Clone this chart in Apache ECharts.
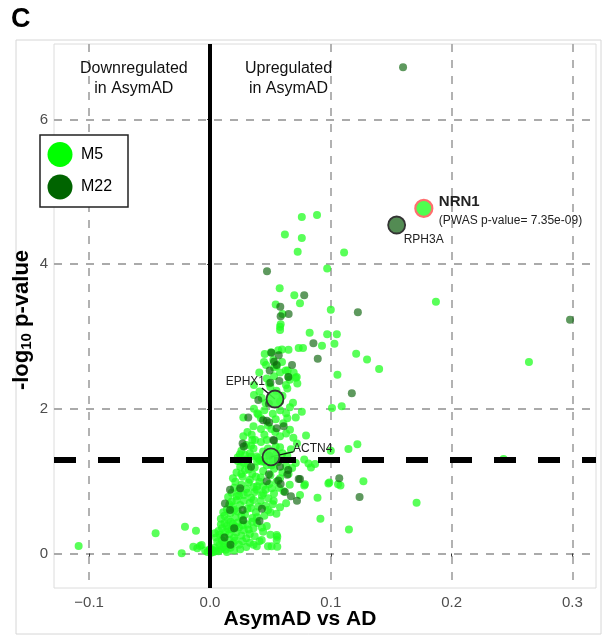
<!DOCTYPE html>
<html><head><meta charset="utf-8">
<script src="https://cdn.jsdelivr.net/npm/echarts@6/dist/echarts.min.js"></script>
<style>html,body{margin:0;padding:0;background:#fff}#c{width:607px;height:636px}</style>
</head><body><div id="c"></div>
<script>
const xRange = [-0.1291, 0.3195];
const yRange = [-0.477, 7.042];
const threshold = 1.301;
const xAxisTitle = 'AsymAD vs AD';
const panelLetter = 'C';
const regionLabels = ['Downregulated\nin AsymAD', 'Upregulated\nin AsymAD'];
const regionLabelX = [-0.063, 0.065];
const regionLabelY = 6.57;
const legendItems = ['M5', 'M22'];
const moduleColors = { M5: '#00ff00', M22: '#006400' };

const hlNames = ['NRN1', 'RPH3A', 'EPHX1', 'ACTN4'];
const hlX = [0.177, 0.1545, 0.0538, 0.0505];
const hlY = [4.77, 4.54, 2.135, 1.334];
const hlModule = ['M5', 'M22', 'M5', 'M5'];
const pwasText = '(PWAS p-value= 7.35e-09)';

const m5 = [
[0.111,4.16],[0.097,3.94],[0.0745,3.46],[0.187,3.48],[0.100,3.37],[0.0825,3.05],[0.097,3.03],[0.105,3.03],[0.0927,2.87],[0.103,2.90],[0.077,2.84],[0.121,2.76],[0.130,2.68],[0.140,2.55],[0.264,2.645],[0.1055,2.47],[0.101,2.01],[0.109,2.035],[0.076,1.96],[0.0795,1.63],[0.100,1.42],[0.1146,1.445],[0.122,1.51],[0.078,1.30],[0.0815,1.245],[0.0836,1.19],[0.087,1.237],[0.243,1.306],[0.098,0.967],[0.108,0.94],[0.127,1.0],[0.078,0.94],[0.0745,0.81],[0.089,0.77],[0.171,0.70],[0.0914,0.48],[0.115,0.33],
[0.076,4.65],[0.0886,4.68],[0.062,4.41],[0.076,4.36],[0.0726,4.17],[0.0577,3.665],[0.0698,3.57],[0.0544,3.44],[0.060,3.31],[0.0585,3.17],[0.058,3.135],[0.058,3.09],
[0.0453,2.757],[0.0596,2.82],[0.065,2.815],[0.0734,2.84],[0.0447,2.647],[0.0596,2.647],[0.0408,2.50],[0.058,2.50],[0.0643,2.53],[0.0693,2.50],[0.071,2.43],[0.0723,2.35],[0.049,2.35],[0.0364,2.33],[0.0629,2.33],[0.0364,2.19],[0.0428,2.15],[0.0687,2.085],[0.0662,2.02],[0.0364,2.00],[0.0392,1.94],[0.058,1.98],[0.063,1.94],[0.0276,1.88],[0.0422,1.87],[0.0544,1.855],[0.064,1.87],[0.0607,1.80],[0.0662,1.71],[0.063,1.66],[0.0508,1.72],[0.0422,1.72],[0.0345,1.64],[0.0276,1.62],[0.0373,1.57],[0.0544,1.48],
[0.0505,2.78],[0.0565,2.81],[0.0464,2.605],[0.0524,2.675],[0.053,2.57],[0.0552,2.59],[0.0627,2.53],[0.0718,2.44],[0.0651,2.44],
[0.034,1.49],[0.0422,1.54],[0.047,1.57],[0.048,1.45],[0.0248,1.37],[0.029,1.36],[0.033,1.385],[0.0387,1.34],[0.0428,1.27],[0.060,1.385],[0.0786,0.956],[0.0988,0.98],[0.106,0.956],[0.063,0.694],[0.0527,0.73],[0.0483,0.763],[0.0441,0.83],[0.0387,0.88],[0.0557,0.23],[0.0552,0.187],[0.051,0.10],[0.0557,0.094],[0.0387,0.10],[0.048,0.10],[0.0428,0.187],[0.0552,0.256],[-0.0116,0.315],[-0.0083,0.104],[-0.0105,0.072],[-0.045,0.28],[-0.0207,0.37],[-0.0138,0.094],[-0.0069,0.117],[-0.0234,0.003],[-0.1087,0.104],
[0.001,0.01],[0.003,0.02],[0.005,0.04],[0.002,0.05],[0.007,0.03],[0.009,0.06],[0.004,0.08],[0.011,0.09],[0.008,0.12],[0.013,0.05],[0.015,0.11],[0.012,0.15],[0.017,0.08],[0.019,0.14],[0.006,0.16],[0.021,0.18],[0.016,0.19],[0.024,0.12],[0.027,0.17],[0.010,0.18],[0.030,0.09],[0.033,0.15],[-0.002,0.02],[-0.004,0.04],[0.014,0.02],[0.020,0.04],[0.025,0.06],[0.036,0.12],[0.041,0.17],[0.000,0.06],
[0.005,0.22],[0.008,0.26],[0.011,0.24],[0.013,0.30],[0.016,0.27],[0.018,0.33],[0.010,0.35],[0.014,0.38],[0.020,0.22],[0.022,0.29],[0.024,0.36],[0.019,0.41],[0.026,0.25],[0.028,0.32],[0.031,0.40],[0.017,0.44],[0.023,0.43],[0.033,0.27],[0.036,0.35],[0.039,0.42],[0.030,0.21],[0.044,0.30],[0.047,0.38],[0.012,0.42],[0.007,0.31],[0.035,0.44],[0.050,0.26],
[0.009,0.48],[0.012,0.52],[0.015,0.47],[0.017,0.56],[0.014,0.61],[0.019,0.65],[0.021,0.50],[0.023,0.58],[0.025,0.67],[0.018,0.72],[0.027,0.46],[0.029,0.54],[0.031,0.62],[0.033,0.70],[0.022,0.74],[0.035,0.49],[0.038,0.57],[0.040,0.65],[0.042,0.73],[0.045,0.52],[0.048,0.60],[0.052,0.68],[0.055,0.55],[0.028,0.73],[0.036,0.74],[0.016,0.68],[0.058,0.64],
[0.015,0.78],[0.018,0.84],[0.020,0.91],[0.022,0.79],[0.024,0.87],[0.026,0.95],[0.028,0.81],[0.030,0.89],[0.032,0.98],[0.034,0.77],[0.037,0.85],[0.039,0.93],[0.043,0.80],[0.046,0.88],[0.049,0.96],[0.053,0.83],[0.057,0.91],[0.061,0.86],[0.021,0.99],[0.041,0.99],[0.066,0.95],
[0.019,1.04],[0.022,1.12],[0.025,1.20],[0.023,1.28],[0.027,1.06],[0.029,1.15],[0.031,1.24],[0.033,1.02],[0.035,1.10],[0.037,1.19],[0.039,1.27],[0.042,1.05],[0.044,1.14],[0.047,1.22],[0.050,1.08],[0.053,1.17],[0.056,1.26],[0.060,1.12],[0.063,1.21],[0.068,1.18],[0.071,1.25],[0.041,1.29],[0.030,1.30],
[0.023,1.33],[0.026,1.42],[0.030,1.50],[0.036,1.45],[0.040,1.32],[0.044,1.41],[0.052,1.30],[0.055,1.38],[0.058,1.47],[0.064,1.35],[0.067,1.44],[0.072,1.52],[0.035,1.57],
[0.031,1.68],[0.036,1.76],[0.045,1.64],[0.048,1.77],[0.054,1.68],[0.058,1.62],[0.069,1.60],[0.040,1.92],[0.045,1.98],[0.052,1.93],[0.071,1.88],
[0.041,2.24],[0.046,2.08],[0.050,2.30],[0.055,2.25],[0.060,2.18],[0.064,2.28],[0.058,2.10],[0.047,2.42],[0.066,2.40],[0.053,2.45],
[0.004,0.28],[0.009,0.40],[0.015,0.34],[0.021,0.37],[0.027,0.39],[0.032,0.33],[0.037,0.24],[0.043,0.36],[0.011,0.57],[0.020,0.60],[0.026,0.52],[0.034,0.63],[0.039,0.50],[0.046,0.66],[0.050,0.57],[0.024,0.80],[0.031,0.84],[0.036,0.92],[0.044,0.93],[0.051,0.90],[0.055,0.99],[0.026,1.10],[0.032,1.16],[0.038,1.06],[0.045,1.27],[0.051,1.22],[0.058,1.04],[0.065,1.10],[0.028,1.25],[0.034,1.34]
];

const m22 = [
[0.1598,6.72],[0.078,3.57],[0.1224,3.335],[0.298,3.23],[0.0856,2.905],[0.0892,2.69],[0.1174,2.215],[0.0745,1.03],[0.107,1.04],[0.1238,0.78],[0.0472,3.90],[0.0582,3.41],[0.0585,3.28],[0.0651,3.31],[0.0508,2.775],[0.0569,2.74],[0.053,2.65],[0.0679,2.605],[0.0494,2.53],[0.0574,2.385],[0.0648,2.44],[0.0488,2.07],[0.0317,1.88],[0.047,1.835],[0.049,1.81],[0.0552,1.73],[0.027,1.52],[0.0524,1.57],[0.0648,1.155],[0.064,1.09],[0.0488,1.095],[0.0565,1.01],[0.0585,0.96],[0.0734,1.03],[0.067,0.79],[0.072,0.73],[0.0166,0.88],[0.0124,0.69],[0.0166,0.60],[0.0276,0.46],[0.0552,2.605],
[0.012,0.22],[0.020,0.35],[0.027,0.60],[0.041,0.45],[0.025,0.90],[0.047,1.00],[0.034,1.20],[0.049,1.35],[0.058,1.20],[0.043,0.62],[0.017,0.12],[0.028,1.48],[0.053,1.56],[0.061,1.76],[0.040,2.12],[0.050,2.36],[0.044,1.84],[0.062,0.85]
];

const FONT = '"Liberation Sans", Arial, Helvetica, sans-serif';
const chart = echarts.init(document.getElementById('c'), null, { renderer: 'canvas' });

const gridLine = { show: true, showMinLine: false, showMaxLine: false, lineStyle: { color: '#aaaaaa', width: 1.8, type: [8, 8] } };

const hlData = hlNames.map((n, i) => {
  const isM5 = hlModule[i] === 'M5';
  return {
    name: n, value: [hlX[i], hlY[i]],
    itemStyle: {
      color: isM5 ? 'rgba(60,255,60,0.9)' : 'rgba(40,110,40,0.8)',
      borderColor: n === 'NRN1' ? '#ff6f6f' : '#333333',
      borderWidth: n === 'NRN1' ? 2.2 : 1.8,
      opacity: 1
    }
  };
});

const option = {
  animation: false,
  backgroundColor: '#ffffff',
  grid: { left: 54, right: 11, top: 44, bottom: 48, show: true, borderColor: '#dcdcdc', borderWidth: 1, backgroundColor: 'transparent' },
  xAxis: {
    type: 'value', min: xRange[0], max: xRange[1], splitNumber: 4,
    axisLine: { show: false },
    axisTick: { show: true, length: 3, lineStyle: { color: '#333' } },
    axisLabel: { color: '#4d4d4d', fontSize: 15, fontFamily: FONT, margin: 7, showMinLabel: false, showMaxLabel: false,
      formatter: v => v.toFixed(1).replace('-', '\u2212') },
    splitLine: gridLine
  },
  yAxis: {
    type: 'value', min: yRange[0], max: yRange[1], splitNumber: 4,
    axisLine: { show: false },
    axisTick: { show: true, length: 3, lineStyle: { color: '#333' } },
    axisLabel: { color: '#4d4d4d', fontSize: 15, fontFamily: FONT, margin: 6, showMinLabel: false, showMaxLabel: false,
      formatter: v => String(Math.round(v)) },
    splitLine: gridLine
  },
  series: [
    { type: 'scatter', name: 'M5', data: m5, symbolSize: 8, z: 2,
      itemStyle: { color: '#22ff22', opacity: 0.75 } },
    { type: 'scatter', name: 'M22', data: m22, symbolSize: 8, z: 2,
      itemStyle: { color: '#0a640a', opacity: 0.66 } },
    { type: 'line', name: 'refLines', data: [], z: 3, silent: true,
      markLine: { silent: true, symbol: 'none', label: { show: false }, animation: false,
        data: [
          { xAxis: 0, lineStyle: { color: '#000', width: 4, type: 'solid' } },
          { yAxis: threshold, lineStyle: { color: '#000', width: 6, type: [22, 22] } }
        ] } },
    { type: 'scatter', name: 'highlight', data: hlData, symbolSize: 17, z: 5 }
  ]
};
chart.setOption(option);

const P = (x, y) => chart.convertToPixel({ gridIndex: 0 }, [x, y]);
const g = [];
g.push({ type: 'rect', shape: { x: 16, y: 40, width: 585, height: 594 }, style: { fill: 'none', stroke: '#d6d6d6', lineWidth: 1 }, z: 1, silent: true });
g.push({ type: 'text', x: 11, y: 20, style: { text: panelLetter, font: 'bold 27px ' + FONT, fill: '#000', textVerticalAlign: 'middle' }, z: 10 });
regionLabels.forEach((t, i) => {
  const p = P(regionLabelX[i], regionLabelY);
  g.push({ type: 'text', x: p[0], y: p[1], style: { text: t, font: '16px ' + FONT, fill: '#111', textAlign: 'center', textVerticalAlign: 'middle', lineHeight: 20 }, z: 10 });
});
g.push({ type: 'text', x: 300, y: 619, style: { text: xAxisTitle, font: 'bold 21px ' + FONT, fill: '#000', textAlign: 'center', textVerticalAlign: 'middle' }, z: 10 });
g.push({ type: 'text', x: 22, y: 320, rotation: Math.PI / 2,
  style: { text: '{a|-log}{b|10}{a| p-value}', textAlign: 'center', textVerticalAlign: 'middle',
    rich: { a: { font: 'bold 22px ' + FONT, fill: '#000', lineHeight: 27 }, b: { font: 'bold 15px ' + FONT, fill: '#000', lineHeight: 27, padding: [10, 0, 0, 0] } } }, z: 10 });
g.push({ type: 'rect', shape: { x: 40, y: 135, width: 88, height: 72 }, style: { fill: '#fff', stroke: '#222', lineWidth: 1.5 }, z: 20 });
legendItems.forEach((n, i) => {
  const cy = 154.5 + i * 32.5;
  g.push({ type: 'circle', shape: { cx: 60, cy: cy, r: 12.5 }, style: { fill: moduleColors[n] }, z: 21 });
  g.push({ type: 'text', x: 81, y: cy, style: { text: n, font: '16px ' + FONT, fill: '#000', textVerticalAlign: 'middle' }, z: 21 });
});
const lbl = (x, y, t, align, size, bold) => ({ type: 'text', x, y, style: { text: t, font: (bold ? 'bold ' : '') + size + 'px ' + FONT, fill: '#222', textAlign: align, textVerticalAlign: 'middle' }, z: 30 });
const seg = (a, b) => ({ type: 'line', shape: { x1: a[0], y1: a[1], x2: b[0], y2: b[1] }, style: { stroke: '#111', lineWidth: 1.3 }, z: 4 });
let p = P(hlX[0], hlY[0]);
g.push(lbl(p[0] + 15, p[1] - 7, hlNames[0], 'left', 15, true));
g.push(lbl(p[0] + 15, p[1] + 12, pwasText, 'left', 12, false));
p = P(hlX[1], hlY[1]);
g.push(lbl(p[0] + 27, p[1] + 15, hlNames[1], 'center', 12, false));
p = P(hlX[2], hlY[2]);
g.push(lbl(p[0] - 10, p[1] - 17, hlNames[2], 'right', 12, false));
g.push(seg([p[0] - 13, p[1] - 11], p));
p = P(hlX[3], hlY[3]);
g.push(lbl(p[0] + 22, p[1] - 8.5, hlNames[3], 'left', 12, false));
g.push(seg([p[0] + 22, p[1] - 5], p));
chart.setOption({ graphic: g });
</script>
</body></html>
